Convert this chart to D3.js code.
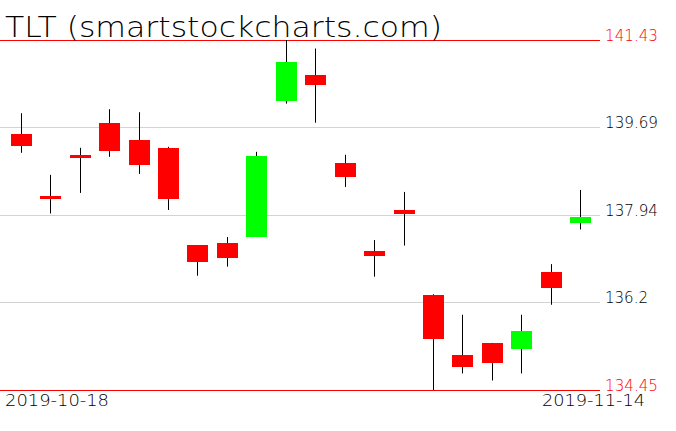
<!DOCTYPE html>
<html><head><meta charset="utf-8">
<script src="https://cdn.jsdelivr.net/npm/d3@7"></script>
<style>html,body{margin:0;padding:0;background:#fff;overflow:hidden}</style>
</head><body>
<svg id="c" width="676" height="431"></svg>
<script>
const dates = ["2019-10-18","2019-10-21","2019-10-22","2019-10-23","2019-10-24","2019-10-25","2019-10-28","2019-10-29","2019-10-30","2019-10-31","2019-11-01","2019-11-04","2019-11-05","2019-11-06","2019-11-07","2019-11-08","2019-11-11","2019-11-12","2019-11-13","2019-11-14"];
const open  = [139.56,138.32,139.14,139.77,139.44,139.28,137.34,137.38,137.51,140.22,140.73,138.98,137.23,138.03,136.35,135.15,135.39,135.27,136.80,137.79];
const high  = [139.97,138.74,139.28,140.05,139.99,139.30,137.34,137.50,139.20,141.43,141.26,139.14,137.44,138.40,136.36,135.95,135.39,135.95,136.96,138.44];
const low   = [139.18,137.97,138.38,139.10,138.76,138.04,136.73,136.91,137.50,140.16,139.78,138.50,136.71,137.33,134.45,134.78,134.64,134.78,136.15,137.65];
const close = [139.32,138.26,139.08,139.22,138.94,138.26,137.01,137.09,139.12,140.99,140.54,138.70,137.13,137.96,135.47,134.90,134.99,135.63,136.49,137.91];
const tickValues = [141.43,139.69,137.94,136.2,134.45];
const tickLabels = ["141.43","139.69","137.94","136.2","134.45"];
const title = "TLT (smartstockcharts.com)";

const svg = d3.select("#c");
const data = dates.map((d,i)=>({d, o:open[i], h:high[i], l:low[i], c:close[i]}));
const x = d3.scalePoint().domain(dates).range([20.7, 580.3]);
const y = d3.scaleLinear().domain([134.45, 141.43]).range([390, 40]);
const font = "'DejaVu Sans', sans-serif";

// grid / axis
const axis = d3.axisRight(y).tickValues(tickValues).tickSize(-600).tickPadding(5)
  .tickFormat((d,i)=>tickLabels[i]);
const ag = svg.append("g").attr("transform","translate(600,0)").call(axis);
ag.select(".domain").remove();
ag.selectAll(".tick line").attr("stroke",(d,i)=> (i===0||i===tickValues.length-1)?"#ff0000":"#d3d3d3")
  .attr("shape-rendering","crispEdges");
ag.selectAll(".tick text").attr("fill",(d,i)=> (i===0||i===tickValues.length-1)?"#ff0000":"#000")
  .attr("font-family",font).attr("font-size",16).attr("font-weight",200)
  .attr("dy","0.05em").attr("x",5)
  .attr("textLength",(d,i)=>tickLabels[i].length===6?53:43).attr("lengthAdjust","spacingAndGlyphs");
ag.selectAll(".tick").attr("transform",d=>`translate(0,${Math.round(y(d))+0.5})`);

// candles
const g = svg.append("g");
g.selectAll("line.w").data(data).join("line").attr("class","w")
  .attr("x1",d=>Math.round(x(d.d))+0.5).attr("x2",d=>Math.round(x(d.d))+0.5)
  .attr("y1",d=>y(d.h)).attr("y2",d=>y(d.l)).attr("stroke","#000").attr("stroke-width",1);
g.selectAll("rect.b").data(data).join("rect").attr("class","b")
  .attr("x",d=>Math.round(x(d.d))-10).attr("width",21)
  .attr("y",d=>y(Math.max(d.o,d.c))).attr("height",d=>Math.max(2,Math.abs(y(d.o)-y(d.c))))
  .attr("fill",d=>d.c>=d.o?"#00ff00":"#ff0000").attr("shape-rendering","crispEdges");

// title
svg.append("text").attr("x",5).attr("y",37).text(title)
  .attr("font-family",font).attr("font-size",29).attr("font-weight",200).attr("fill","#000")
  .attr("textLength",437).attr("lengthAdjust","spacingAndGlyphs");

// date labels
svg.append("text").attr("x",5).attr("y",406).text(dates[0])
  .attr("font-family",font).attr("font-size",16).attr("font-weight",200)
  .attr("textLength",104).attr("lengthAdjust","spacingAndGlyphs");
svg.append("text").attr("x",645).attr("y",406).attr("text-anchor","end").text(dates[dates.length-1])
  .attr("font-family",font).attr("font-size",16).attr("font-weight",200)
  .attr("textLength",103).attr("lengthAdjust","spacingAndGlyphs");
</script>
</body></html>
